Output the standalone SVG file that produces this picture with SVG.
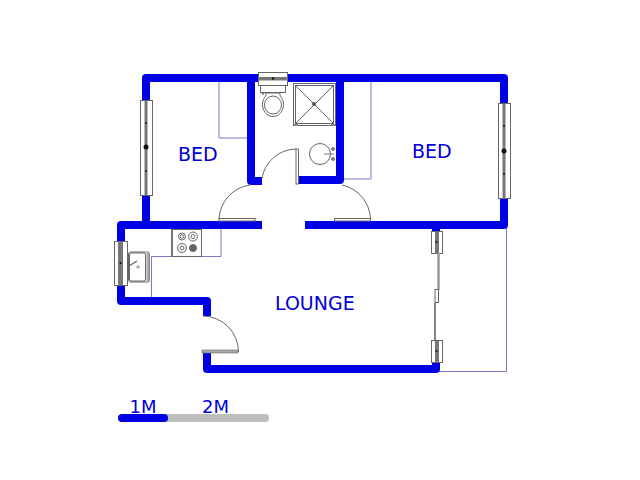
<svg xmlns="http://www.w3.org/2000/svg" width="640" height="480" viewBox="0 0 640 480">
<style>
.wall{fill:none;stroke:#0000e6;stroke-width:8;stroke-linejoin:round;stroke-linecap:butt}
.thin{fill:none;stroke:#7a7ac4;stroke-width:1}
.fix{fill:#fff;stroke:#666;stroke-width:1}
.line{fill:none;stroke:#555;stroke-width:.9}
.bar{fill:none;stroke:#777;stroke-width:3}
.lbl{font-family:"DejaVu Sans",sans-serif;font-size:19px;fill:#0000d8}
</style>
<rect width="640" height="480" fill="#fff"/>
<g id="outlines">
<path class="thin" d="M219 80V138H247M221 228V256.500H151.500V298M171 256.500H221M342 81.500H371V179H344M439 371.500H506.500V228"/>
</g>
<g id="walls">
<path class="wall" d="M146 100V78H504V103M146 195V225M504 199V225H305M262 225H121V241M121 285V301H207V316M207 353V369H436V362"/>
<path class="wall" d="M121 225H146M436 228V232"/>
<path class="wall" d="M251 78V181H262M340 78V180H298"/>
</g>
<g id="left-window">
<rect class="fix" x="140.500" y="100.500" width="12" height="95"/>
<path class="bar" d="M146 101V195"/>
<circle cx="146" cy="147" r="2.500" fill="#111"/>
<circle cx="146" cy="123" r="1" fill="#111"/><circle cx="146" cy="171" r="1" fill="#111"/>
</g>
<g id="right-window">
<rect class="fix" x="498.500" y="103.500" width="12" height="95"/>
<path class="bar" d="M504 104V198"/>
<circle cx="504" cy="151" r="2.500" fill="#111"/>
<circle cx="504" cy="126" r="1" fill="#111"/><circle cx="504" cy="174" r="1" fill="#111"/>
</g>
<g id="toilet">
<rect class="fix" x="258.500" y="72.500" width="29" height="13"/>
<rect x="258" y="77" width="30" height="3.500" fill="#777"/>
<circle cx="273" cy="78.500" r="1.200" fill="#111"/>
<rect class="fix" x="260.500" y="85.500" width="25" height="7"/>
<circle cx="263" cy="93.500" r="1.300" fill="#777"/>
<path class="fix" d="M266 93C267 96 263 98 262.500 103C262 111 267 116.500 273 116.500C279 116.500 284 111 283.500 103C283 98 279 96 280 93Z"/>
<ellipse class="line" cx="273" cy="105" rx="8.500" ry="9"/>
</g>
<g id="shower">
<rect class="fix" x="293.500" y="83.500" width="42" height="42"/>
<rect class="line" x="295.500" y="85.500" width="38" height="38"/>
<path class="line" d="M295 85L334 124M334 85L295 124"/>
<circle cx="314" cy="104" r="2" fill="#555"/>
<path d="M294 125H298M331 125H335" stroke="#888" stroke-width="2"/>
</g>
<g id="basin">
<circle class="line" cx="320" cy="154" r="10.500"/>
<circle cx="333" cy="149" r="1.300" fill="none" stroke="#333"/>
<circle cx="333" cy="159" r="1.300" fill="none" stroke="#333"/>
<path d="M324 154H334" stroke="#777" stroke-width="1"/>
</g>
<g id="bath-door">
<rect class="fix" x="296" y="149" width="2.500" height="35"/>
<path class="line" d="M296 149A35 35 0 0 0 262 178"/>
</g>
<g id="left-bed-door">
<rect class="fix" x="219" y="218.500" width="36" height="2.500"/>
<path class="line" d="M219 219A36 36 0 0 1 250 185"/>
</g>
<g id="right-bed-door">
<rect class="fix" x="334.500" y="218.500" width="36" height="2.500"/>
<path class="line" d="M370.500 219A36 36 0 0 0 342 185"/>
</g>
<g id="hob">
<rect class="fix" x="171.500" y="229.500" width="30" height="27"/>
<path d="M172 230V256" stroke="#777" stroke-width="2"/>
<g class="line"><circle cx="182" cy="236.500" r="3.500"/><circle cx="182" cy="236.500" r="1.800"/><circle cx="193" cy="236.500" r="4.500"/><circle cx="193" cy="236.500" r="2"/><circle cx="182" cy="248" r="4.500"/><circle cx="182" cy="248" r="2"/></g>
<circle cx="193" cy="248" r="3.500" fill="#666" stroke="#555" stroke-width=".8"/>
</g>
<g id="kitchen-window">
<rect class="fix" x="114.500" y="241.500" width="13" height="44"/>
<path d="M120.500 242V285" stroke="#777" stroke-width="5"/>
<circle cx="120.500" cy="263" r="1" fill="#111"/>
</g>
<g id="sink">
<rect class="fix" x="128.500" y="252" width="21" height="30" rx="2"/>
<rect class="line" x="129.500" y="253" width="16" height="28" rx="2"/>
<path d="M148 253V281" stroke="#aaa" stroke-width="3"/>
<path d="M129 266L137 261" stroke="#666" stroke-width="1.200"/>
<path d="M128.500 260V275" stroke="#666" stroke-width="2"/>
<circle cx="138" cy="267" r="1.200" fill="#fff" stroke="#444" stroke-width=".6"/>
</g>
<g id="entry-door">
<rect x="202" y="350" width="36" height="3" fill="#aaa" stroke="#666" stroke-width=".6"/>
<path class="line" d="M238.500 352A36 36 0 0 0 203 316"/>
</g>
<g id="sliding-door">
<rect class="fix" x="431.500" y="231.500" width="11" height="22"/>
<path d="M437 232V253" stroke="#777" stroke-width="4"/>
<circle cx="436.500" cy="242" r="1" fill="#111"/>
<rect class="fix" x="431.500" y="340.500" width="11" height="22"/>
<path d="M437 341V362" stroke="#777" stroke-width="4"/>
<circle cx="436.500" cy="351" r="1" fill="#111"/>
<path d="M438.500 253V290" stroke="#999" stroke-width="2.500"/>
<path d="M435 303V340" stroke="#777" stroke-width="1.800"/>
<rect class="fix" x="435" y="289.500" width="3.500" height="13"/>
</g>
<g id="labels">
<text class="lbl" x="178" y="161">BED</text>
<text class="lbl" x="412" y="158">BED</text>
<text class="lbl" x="275" y="310">LOUNGE</text>
</g>
<g id="scale">
<path d="M122 418H265" stroke="#bdbdbd" stroke-width="8" stroke-linecap="round"/>
<path d="M122 418H164" stroke="#0000e6" stroke-width="8" stroke-linecap="round"/>
<text class="lbl" x="129.500" y="413" style="font-size:18px">1M</text>
<text class="lbl" x="202" y="413" style="font-size:18px">2M</text>
</g>
</svg>
